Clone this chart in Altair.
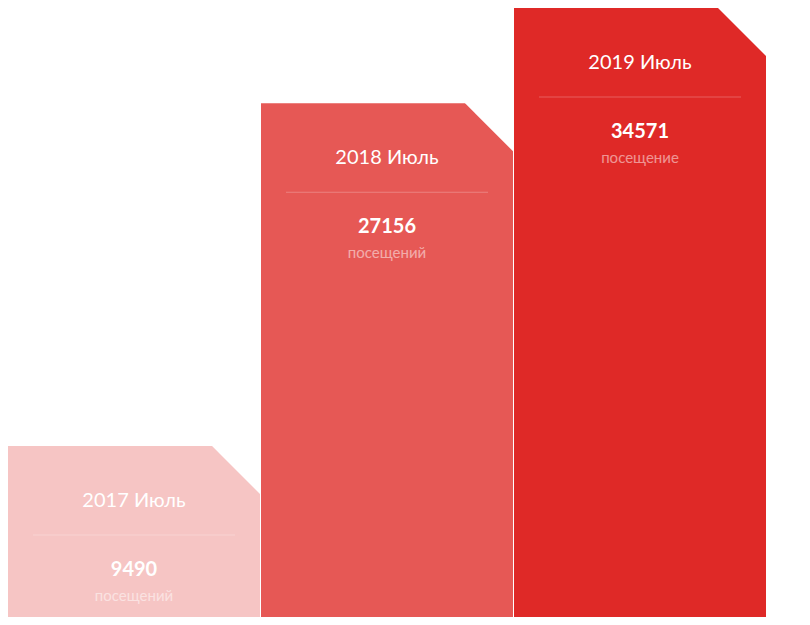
import altair as alt
import pandas as pd

categories = ["2017 Июль", "2018 Июль", "2019 Июль"]
values = [9490, 27156, 34571]
units = ["посещений", "посещений", "посещение"]
colors = ["#f6c5c4", "#e65855", "#df2927"]

baseline = 4800  # lower end of the value scale

df = pd.DataFrame({"cat": categories, "value": values, "unit": units})

FONT = "Lato"

xs = alt.Scale(domain=categories, paddingInner=0.004, paddingOuter=0)
ys = alt.Scale(type="pow", exponent=0.3, domain=[baseline, max(values)], zero=False, nice=False)

x = alt.X("cat:N", sort=categories, scale=xs, axis=None)
y = alt.Y("value:Q", scale=ys, axis=None)

base = alt.Chart(df)

bars = base.mark_bar(cornerRadius=0).encode(
    x=x,
    y=y,
    y2=alt.datum(baseline),
    color=alt.Color("cat:N", scale=alt.Scale(domain=categories, range=colors), legend=None),
)

corner_path = "M-2.05,-0.05 L0.02,-0.05 L0.02,2.02 Z"
corners = base.mark_point(
    shape=corner_path, filled=True, color="white", opacity=1, size=2304, strokeWidth=0
).encode(
    x=alt.X("cat:N", sort=categories, scale=xs, axis=None, bandPosition=1),
    y=y,
)

seps = base.mark_tick(color="white", opacity=0.25, size=202, thickness=1, yOffset=89).encode(
    x=x, y=y
)

titles = base.mark_text(font=FONT, fontSize=20, color="white", baseline="middle", dy=55).encode(
    x=x, y=y, text="cat:N"
)
nums = base.mark_text(font=FONT, fontSize=20, fontWeight="bold", color="white",
                      baseline="middle", dy=124).encode(
    x=x, y=y, text=alt.Text("value:Q", format="d")
)
labels = base.mark_text(font=FONT, fontSize=15, color="white", opacity=0.5,
                        baseline="middle", dy=150).encode(
    x=x, y=y, text="unit:N"
)

chart = alt.layer(bars, corners, seps, titles, nums, labels).properties(
    width=758, height=609, padding=0,
    autosize=alt.AutoSizeParams(type="none"),
    background="white",
).configure_view(stroke=None)

chart.save("out.html", embed_options={"renderer": "svg", "actions": False})
